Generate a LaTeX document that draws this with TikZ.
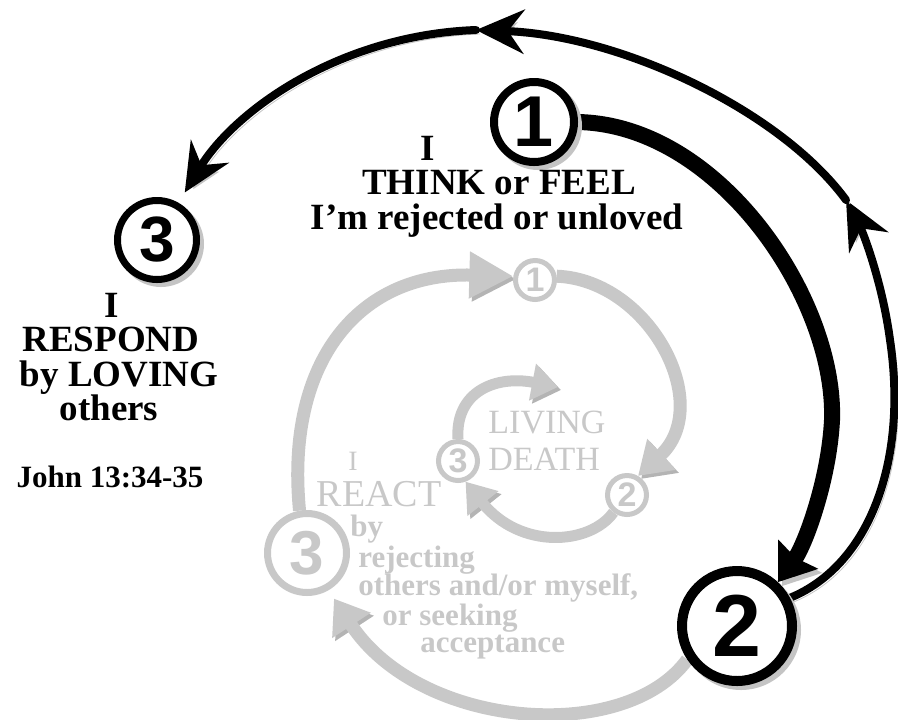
\documentclass[tikz,border=0pt]{standalone}
\usepackage{fontspec}
\setmainfont{Liberation Serif}
\newfontfamily\numfont{Liberation Sans}
\usetikzlibrary{arrows.meta, backgrounds}
\definecolor{InkBlack}{HTML}{000000}
\definecolor{FadeGray}{HTML}{C8C8C8}
\definecolor{ShadeGray}{HTML}{B4B4B4}
\definecolor{DropGray}{HTML}{C4C4C4}
\newcommand{\digits}[1]{\numfont\bfseries\fontsize{#1}{#1}\selectfont}

\begin{document}
\begin{tikzpicture}[
  x=0.5pt, y=-0.5pt,
  ring/.style={circle, draw=InkBlack, fill=white, inner sep=0pt},
  ghostring/.style={ring, draw=FadeGray, text=FadeGray, line width=2.5pt,
                    minimum size=19.5pt, font={\digits{17}}},
  head/.style={anchor=base, inner sep=0pt, font=\fontsize{18.5}{18.5}\selectfont\bfseries},
  ghostbig/.style={anchor=base, inner sep=0pt, text=FadeGray,
                   font=\fontsize{19}{19}\selectfont},
  ghost/.style={anchor=base west, inner sep=0pt, text=FadeGray,
                font=\fontsize{15.5}{15.5}\selectfont\bfseries},
  drop/.style={preaction={draw=DropGray, transform canvas={shift={(2pt,-2pt)}}}},
  fadedrop/.style={preaction={draw=ShadeGray, transform canvas={shift={(1.5pt,-1.5pt)}}}},
  boldarr/.style={drop, line width=8pt, InkBlack, -{Stealth[length=17pt, width=24pt, inset=2pt]}},
  thinarr/.style={drop, line width=4pt, InkBlack, line cap=round,
                  -{Stealth[length=24pt, width=22pt, inset=8pt]}},
  fadearr/.style={fadedrop, line width=6.5pt, FadeGray},
  fadethin/.style={fadedrop, line width=5.5pt, FadeGray},
]
\useasboundingbox (0,0) rectangle (898,719);

% numbered rings
\node[ring, drop, line width=4pt, minimum size=40pt, font={\digits{36}}] (c1) at (534,122) {1};
\node[ring, drop, line width=5pt, minimum size=55pt, font={\digits{44}}] (c2) at (737,626) {2};
\node[ring, drop, line width=3.5pt, minimum size=39.5pt, font={\digits{32}}] (c3) at (157,240) {3};
\node[ghostring] (g1) at (535,280) {1};
\node[ghostring] (g2) at (627,495) {2};
\node[ghostring] (g3s) at (458,461) {3};
\node[ghostring, line width=3.5pt, minimum size=39.5pt, font={\digits{31}}] (g3) at (307,553) {3};

% black texts
\node[head] (think1) at (428,160) {I};
\node[head] (think2) at (499,194) {THINK or FEEL};
\node[head] (think3) at (497,229) {I'm rejected or unloved};
\node[head] (resp1) at (112,317) {I};
\node[head] (resp2) at (111,351) {RESPOND};
\node[head] (resp3) at (119,386) {by LOVING};
\node[head] (resp4) at (109,420) {others};
\node[head, font=\fontsize{15.5}{15.5}\selectfont\bfseries] (verse) at (110,487) {John 13:34-35};

% faded texts
\node[ghostbig, font=\fontsize{14}{14}\selectfont] (react1) at (353,470) {I};
\node[ghostbig] (react2) at (379,506) {REACT};
\node[ghost] (react3) at (350,536) {by};
\node[ghost] (react4) at (358,567) {rejecting};
\node[ghost] (react5) at (358,595) {others and/or myself,};
\node[ghost] (react6) at (382,625) {or seeking};
\node[ghost] (react7) at (420,652) {acceptance};
\node[ghost, font=\fontsize{17}{17}\selectfont] (loop1) at (488,433) {LIVING};
\node[ghost, font=\fontsize{17}{17}\selectfont] (loop2) at (488,470) {DEATH};

\coordinate (turnR) at (846,200);
\coordinate (turnT) at (476,30);
\coordinate (loopTip) at (558,387);

\begin{scope}[on background layer]
% faded cycle
\draw[fadearr, -{Triangle[length=22pt, width=22pt]}] (g3.100) .. controls (285,360) and (360,272) .. (g1.170);
\draw[fadearr, -{Triangle[length=16pt, width=20pt]}] (g1.10) .. controls (650,280) and (715,405) .. (g2.60);
\draw[fadethin, -{Triangle[length=14pt, width=19pt]}] (g2.232) .. controls (590,545) and (520,550) .. (g3s.-70);
\draw[fadethin, -{Triangle[length=13pt, width=18pt]}] (g3s.north) .. controls (455,392) and (495,375) .. (loopTip);
\draw[fadearr, -{Triangle[length=16pt, width=22pt]}, shorten >=5pt] (c2.214) .. controls (625,745) and (420,730) .. (g3.-60);
% black cycle
\draw[boldarr] (c1.east) .. controls (720,125) and (836,300) .. (832,420)
  .. controls (829,480) and (805,545) .. (c2.47);
\draw[thinarr] (c2.28) .. controls (870,565) and (908,460) .. (890,340)
  .. controls (882,280) and (862,230) .. (turnR);
\draw[thinarr] (turnR) .. controls (780,110) and (620,35) .. (turnT);
\draw[thinarr, shorten >=6pt] (turnT) .. controls (340,35) and (235,110) .. (c3.60);
\end{scope}
\end{tikzpicture}
\end{document}
